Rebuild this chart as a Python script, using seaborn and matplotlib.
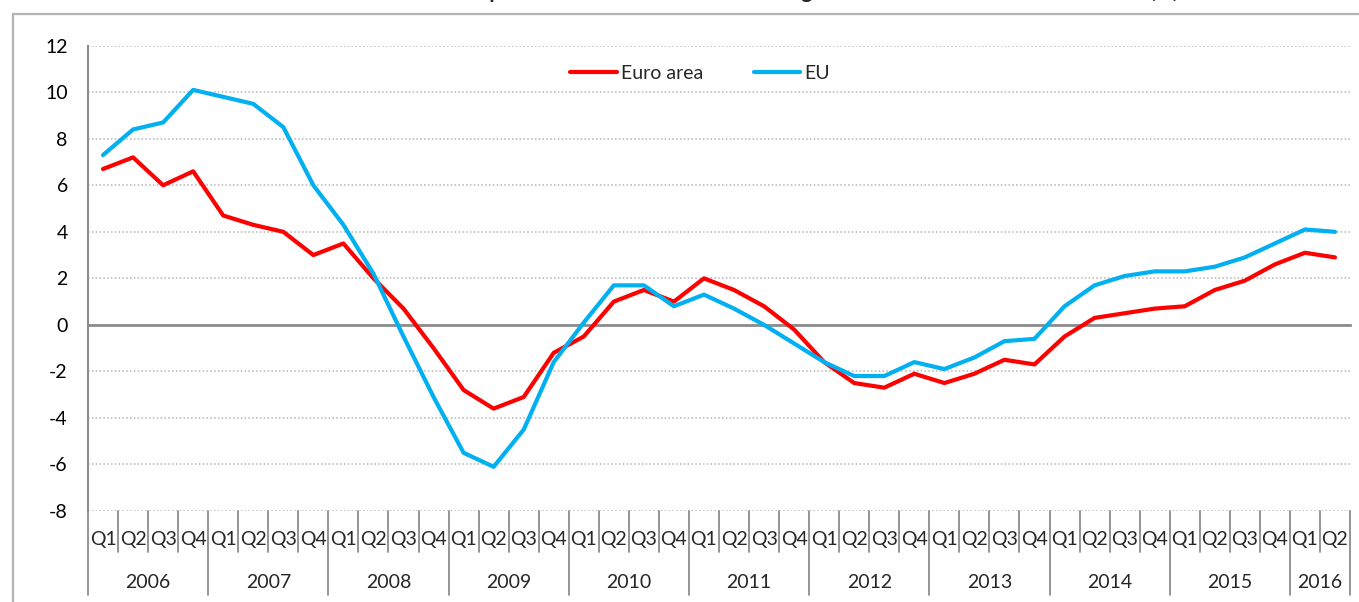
import matplotlib
matplotlib.use("Agg")
import pandas as pd
import matplotlib.pyplot as plt
import matplotlib.transforms as mtransforms
import seaborn as sns

# data: annual growth, 2006Q1 .. 2016Q2
years = ["2006", "2007", "2008", "2009", "2010", "2011",
         "2012", "2013", "2014", "2015", "2016"]
quarters = ["Q1", "Q2", "Q3", "Q4"]

euro_area = [6.7, 7.2, 6.0, 6.6, 4.7, 4.3, 4.0, 3.0, 3.5, 2.0, 0.7, -1.0,
             -2.8, -3.6, -3.1, -1.2, -0.5, 1.0, 1.5, 1.0, 2.0, 1.5, 0.8, -0.2,
             -1.6, -2.5, -2.7, -2.1, -2.5, -2.1, -1.5, -1.7, -0.5, 0.3, 0.5, 0.7,
             0.8, 1.5, 1.9, 2.6, 3.1, 2.9]
eu = [7.3, 8.4, 8.7, 10.1, 9.8, 9.5, 8.5, 6.0, 4.3, 2.2, -0.5, -3.1,
      -5.5, -6.1, -4.5, -1.6, 0.1, 1.7, 1.7, 0.8, 1.3, 0.7, 0.0, -0.8,
      -1.6, -2.2, -2.2, -1.6, -1.9, -1.4, -0.7, -0.6, 0.8, 1.7, 2.1, 2.3,
      2.3, 2.5, 2.9, 3.5, 4.1, 4.0]

n = len(euro_area)
q_labels = [quarters[i % 4] for i in range(n)]

df = pd.DataFrame({
    "idx": list(range(n)) * 2,
    "value": euro_area + eu,
    "series": ["Euro area"] * n + ["EU"] * n,
})

sns.set_style("white")
plt.rcParams['font.family'] = ['Lato', 'DejaVu Sans']
plt.rcParams['axes.unicode_minus'] = False
fs = 14

fig = plt.figure(figsize=(13.59, 6.02), dpi=100)
W, H = 1359, 602
ax = fig.add_axes([88 / W, 1 - 511 / H, (1350 - 88) / W, (511 - 45.7) / H])

sns.lineplot(data=df, x="idx", y="value", hue="series",
             palette={"Euro area": "#FF0000", "EU": "#00B0F0"},
             linewidth=3.0, ax=ax, zorder=5)

ax.set_xlim(-0.5, n - 0.5)
ax.set_ylim(-8, 12)
ax.set_yticks(range(-8, 13, 2))
ax.set_xlabel("")
ax.set_ylabel("")

grey = "#8C8C8C"
ax.yaxis.grid(True, linestyle=(0, (1, 1.5)), linewidth=1.1, color="#B5B5B5")
ax.xaxis.grid(False)
for s in ["top", "right"]:
    ax.spines[s].set_visible(False)
ax.spines["left"].set_color(grey)
ax.spines["left"].set_linewidth(1.5)
ax.spines["bottom"].set_position(("data", 0))
ax.spines["bottom"].set_color(grey)
ax.spines["bottom"].set_linewidth(2)
ax.spines["bottom"].set_zorder(4)

ax.set_xticks([i - 0.5 for i in range(n + 1)])
ax.set_xticklabels([])
ax.tick_params(axis="x", direction="out", length=5, width=1.2, color=grey)
ax.tick_params(axis="y", direction="out", length=4.5, width=1.2, color=grey,
               pad=10, labelsize=fs, labelcolor="black")

# category labels sit below the plot, Excel "low" style
trans = mtransforms.blended_transform_factory(ax.transData, ax.transAxes)
q_y = -0.0623
yr_y = -0.1526
for i, lab in enumerate(q_labels):
    ax.text(i, q_y, lab, transform=trans, ha="center", va="center",
            fontsize=fs)
for i in range(n + 1):
    bottom = -0.1805 if (i % 4 == 0 or i == n) else -0.0881
    ax.plot([i - 0.5, i - 0.5], [0, bottom], transform=trans, color=grey,
            linewidth=1.3, clip_on=False)
for k, yr in enumerate(years):
    first = 4 * k
    last = min(4 * k + 3, n - 1)
    ax.text((first + last) / 2, yr_y, yr, transform=trans, ha="center",
            va="center", fontsize=fs)

leg = ax.legend(loc="center", bbox_to_anchor=(0.485, 0.941), ncol=2,
                frameon=False, handlelength=2.4, handletextpad=0.2,
                columnspacing=2.6, fontsize=fs)
for line in leg.get_lines():
    line.set_linewidth(3.0)

# chart area border (only top and left edges are inside the picture)
fig.add_artist(plt.Line2D([13 / W, 1], [1 - 13.5 / H, 1 - 13.5 / H],
                          color="#B3B3B3", linewidth=1.6))
fig.add_artist(plt.Line2D([13 / W, 13 / W], [0, 1 - 13.5 / H],
                          color="#B3B3B3", linewidth=1.6))

# title sits above the picture, only its lower edge shows
fig.text(1178 / W, 1 + 1.5 / H,
         "House price index \u2013 annual rates of change in the euro area and the whole EU (%)",
         ha="right", va="baseline", fontsize=15, fontweight="bold")

fig.savefig("out.png", dpi=100)
